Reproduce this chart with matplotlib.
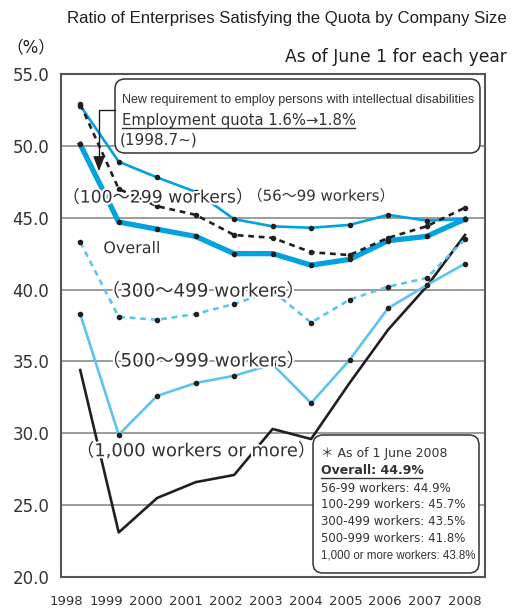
import matplotlib as mpl

mpl.use("Agg")
import matplotlib.pyplot as plt
import matplotlib.patheffects as pe
from matplotlib.lines import Line2D
from matplotlib.patches import FancyBboxPatch

YEARS = [1998, 1999, 2000, 2001, 2002, 2003, 2004, 2005, 2006, 2007, 2008]
OVERALL = [50.1, 44.7, 44.2, 43.7, 42.5, 42.5, 41.7, 42.1, 43.4, 43.7, 44.9]
W56_99 = [52.8, 48.9, 47.8, 46.8, 44.9, 44.4, 44.3, 44.5, 45.2, 44.8, 44.9]
W100_299 = [52.9, 47.0, 45.8, 45.2, 43.8, 43.6, 42.6, 42.4, 43.6, 44.4, 45.7]
W300_499 = [43.3, 38.1, 37.9, 38.3, 39.0, 39.9, 37.7, 39.3, 40.2, 40.8, 43.5]
W500_999 = [38.3, 29.9, 32.6, 33.5, 34.0, 34.8, 32.1, 35.1, 38.7, 40.3, 41.8]
W1000 = [34.4, 23.1, 25.5, 26.6, 27.1, 30.3, 29.6, 33.5, 37.2, 40.2, 43.8]

Y_TICKS = [20.0, 25.0, 30.0, 35.0, 40.0, 45.0, 50.0, 55.0]

SUMMARY = [
    "56-99 workers: 44.9%",
    "100-299 workers: 45.7%",
    "300-499 workers: 43.5%",
    "500-999 workers: 41.8%",
    "1,000 or more workers: 43.8%",
]

BLUE = "#00A3E0"
LIGHT_BLUE = "#5EC4EE"
BLACK = "#231F20"
GRID = "#808080"
TEXT = "#231F20"
GREY_TEXT = "#333333"
FONT = ["DejaVu Sans", "Noto Sans CJK JP"]
NARROW = ["Liberation Sans", "DejaVu Sans"]

W, H = 528, 608


def px(x, y):
    # pixel position (top-left origin) -> inches for dpi_scale_trans
    return x / 100, (H - y) / 100


fig = plt.figure(figsize=(W / 100, H / 100), dpi=100)
ax = fig.add_axes([61 / W, 1 - 577 / H, (485 - 61) / W, (577 - 74) / H])
tr = fig.dpi_scale_trans

ax.set_xlim(1997.5, 2008.52)
ax.set_ylim(20, 55)
for v in Y_TICKS[1:-1]:
    ax.axhline(v, color=GRID, lw=1.1, zorder=1)

dot = dict(marker="o", markersize=3, markerfacecolor=BLACK, markeredgecolor=BLACK)
ax.plot(YEARS, W1000, color=BLACK, lw=1.9, zorder=3)
ax.plot(YEARS, W500_999, color=LIGHT_BLUE, lw=1.9, zorder=3, **dot)
ax.plot(YEARS, W300_499, color=LIGHT_BLUE, lw=1.9, ls=(0, (2.2, 1.8)), zorder=3, **dot)
ax.plot(YEARS, W56_99, color=BLUE, lw=1.9, zorder=4, **dot)
ax.plot(YEARS, OVERALL, color=BLUE, lw=3.8, zorder=4, **dot)
ax.plot(YEARS, W100_299, color=BLACK, lw=1.9, ls=(0, (2.2, 1.8)), zorder=5, **dot)

ax.set_yticks(Y_TICKS, [f"{v:.1f}" for v in Y_TICKS])
ax.set_xticks([y - 0.36 * (2008 - y) / 10 for y in YEARS], [str(y) for y in YEARS])
ax.tick_params(axis="y", length=0, pad=8.5, labelsize=12, labelcolor=GREY_TEXT)
ax.tick_params(axis="x", length=0, pad=13, labelsize=9.5, labelcolor=GREY_TEXT)
for s in ax.spines.values():
    s.set_color("#555555")
    s.set_linewidth(1.5)

halo = [pe.withStroke(linewidth=3, foreground="white")]
series_labels = [
    ("（100～299 workers）", 1997.54, 46.4, 12.4),
    ("（56～99 workers）", 2002.35, 46.5, 10.8),
    ("Overall", 1998.6, 42.85, 11.5),
    ("（300～499 workers）", 1998.56, 39.86, 13.2),
    ("（500～999 workers）", 1998.57, 35.0, 13.2),
    ("（1,000 workers or more）", 1997.9, 28.75, 12.9),
]
for txt, x, y, size in series_labels:
    ax.text(x, y, txt, ha="left", va="center", fontsize=size, color=GREY_TEXT,
            family=FONT, path_effects=halo, zorder=6)

# titles
fig.text(507 / W, 1 - 18 / H, "Ratio of Enterprises Satisfying the Quota by Company Size",
         ha="right", va="center", fontsize=12.1, family=NARROW, color=TEXT)
fig.text(507 / W, 1 - 57 / H, "As of June 1 for each year", ha="right", va="center",
         fontsize=12.3, family=FONT, color=TEXT)
fig.text(6 / W, 1 - 47 / H, "（%）", ha="left", va="center", fontsize=12, family=FONT, color=TEXT)

# annotation box (quota change)
bx, by = px(115, 153)
fig.add_artist(FancyBboxPatch((bx, by), 3.65, 0.74, boxstyle="round,pad=0,rounding_size=0.1",
                              transform=tr, facecolor="white", edgecolor=GREY_TEXT, lw=1.1, zorder=7))
fig.text(*px(122, 100), "New requirement to employ persons with intellectual disabilities",
         transform=tr, ha="left", va="center", fontsize=9, family=NARROW, color=GREY_TEXT, zorder=8)
fig.text(*px(122, 120), "Employment quota 1.6%→1.8%", transform=tr, ha="left", va="center",
         fontsize=10.6, family=FONT, color=GREY_TEXT, zorder=8)
fig.add_artist(Line2D([1.22, 3.55], [px(0, 128)[1]] * 2, transform=tr, color=GREY_TEXT, lw=1.0, zorder=8))
fig.text(*px(120, 140), "(1998.7~)", transform=tr, ha="left", va="center",
         fontsize=11, family=FONT, color=GREY_TEXT, zorder=8)

# arrow from box down to 1999
fig.add_artist(Line2D([1.15, 0.99, 0.99], [px(0, 110)[1], px(0, 110)[1], px(0, 160)[1]],
                      transform=tr, color=BLACK, lw=1.0, zorder=8))
ax.annotate("", xy=px(99, 174), xycoords=tr, xytext=px(99, 158), textcoords=tr,
            arrowprops=dict(arrowstyle="-|>,head_length=0.9,head_width=0.35", color=BLACK, lw=1.0),
            zorder=8)

# summary box
sx, sy = px(313, 573)
fig.add_artist(FancyBboxPatch((sx, sy), 1.66, 1.38, boxstyle="round,pad=0,rounding_size=0.1",
                              transform=tr, facecolor="white", edgecolor=GREY_TEXT, lw=1.1, zorder=7))
fig.text(*px(321, 453), "＊ As of 1 June 2008", transform=tr, ha="left", va="center",
         fontsize=9, family=FONT, color=GREY_TEXT, zorder=8)
fig.text(*px(321, 470), "Overall: 44.9%", transform=tr, ha="left", va="center",
         fontsize=9, family=FONT, fontweight="bold", color=GREY_TEXT, zorder=8)
fig.add_artist(Line2D([3.21, 4.22], [px(0, 478)[1]] * 2, transform=tr, color=GREY_TEXT, lw=1.0, zorder=8))
for i, line in enumerate(SUMMARY):
    fig.text(*px(321, 488 + 16.8 * i), line, transform=tr, ha="left", va="center",
             fontsize=8.5 if i < 4 else 8.3, family=NARROW if i == 4 else FONT,
             color=GREY_TEXT, zorder=8)

fig.savefig("out.png", dpi=100, facecolor="white")
